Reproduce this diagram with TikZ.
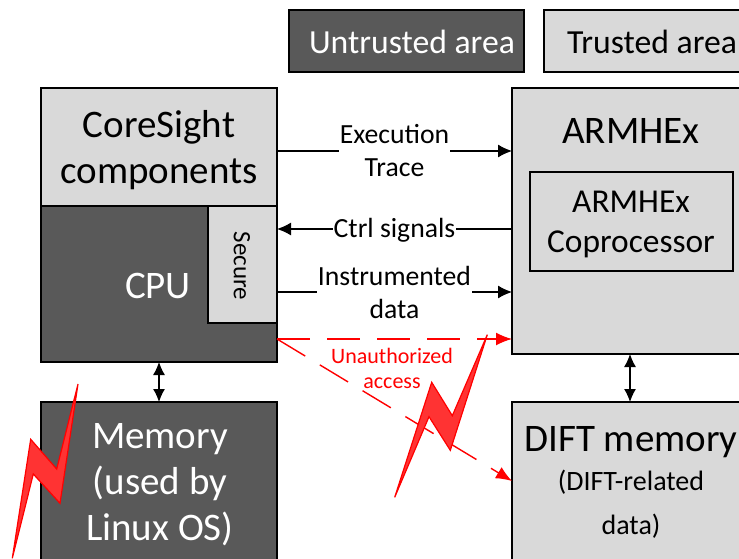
\documentclass[tikz,border=0pt]{standalone}
\usepackage{fontspec}
\setmainfont{Carlito}
\usetikzlibrary{arrows.meta}
\definecolor{darkbox}{RGB}{89,89,89}
\definecolor{lightbox}{RGB}{217,217,217}
\definecolor{boltred}{RGB}{255,51,51}
\tikzset{
  x=1pt,y=-1pt,
  box/.style={draw=black,line width=1.2pt,inner sep=0pt,outer sep=0pt,minimum width=#1},
  darkb/.style={box=#1,fill=darkbox},
  lightb/.style={box=#1,fill=lightbox},
  txtw/.style={text=white,align=center,inner sep=0pt},
  txtk/.style={text=black,align=center,inner sep=0pt},
  big/.style={font=\fontsize{39}{46}\selectfont},
  lead/.style={font=\fontsize{33.4}{40}\selectfont},
  arr/.style={draw=black,line width=1.2pt,-{Latex[length=14pt,width=13pt]}},
  dblarr/.style={draw=black,line width=1.2pt,{Latex[length=13pt,width=12pt]}-{Latex[length=13pt,width=12pt]}},
  lbl/.style={fill=white,align=center,inner xsep=1pt,inner ysep=0pt,font=\fontsize{27.7}{33}\selectfont},
  redarr/.style={draw=red,line width=1.4pt,dash pattern=on 33pt off 17pt,-{Latex[length=16pt,width=13pt]}},
  bolt/.style={draw=red,line width=1.2pt,fill=boltred,line join=miter},
}
\begin{document}
\begin{tikzpicture}
\useasboundingbox (0,0) rectangle (739,559);
% legend
\node[darkb=235pt,minimum height=62pt] (untrusted) at (406.5,41) {};
\node[lightb=201pt,minimum height=62pt] (trusted) at (644.5,41) {};
\node[txtw,font=\fontsize{33.7}{40}\selectfont] (untrustedt) at (412,41.5) {Untrusted area};
\node[txtk,font=\fontsize{33.7}{40}\selectfont] (trustedt) at (652,41.5) {Trusted area};
% left column
\node[lightb=236pt,minimum height=118pt] (coresight) at (159,147) {};
\node[darkb=236pt,minimum height=156pt] (cpu) at (159,284) {};
\node[lightb=69pt,minimum height=117pt] (secure) at (242.5,264.5) {};
\node[darkb=236pt,minimum height=164pt] (memory) at (159,484) {};
\node[txtk,big] (coresightt) at (159,150) {CoreSight\\components};
\node[txtw,big] (cput) at (158,286) {CPU};
\node[txtk,rotate=-90,font=\fontsize{25}{30}\selectfont] (securet) at (242,266) {Secure};
\node[txtw,big] (memoryt) at (160,485) {Memory\\(used by\\Linux OS)};
% right column
\node[lightb=236pt,minimum height=266pt] (armhex) at (630,221) {};
\node[lightb=203pt,minimum height=99pt] (copro) at (631.5,221.5) {};
\node[lightb=236pt,minimum height=164pt] (dift) at (630,484) {};
\node[txtk,big] (armhext) at (631,130.5) {ARMHEx};
\node[txtk,lead] (coprot) at (631,224) {ARMHEx\\Coprocessor};
\node[txtk,big] (diftt) at (631,442) {DIFT memory};
\node[txtk,font=\fontsize{28}{44}\selectfont] (difts) at (631,504) {(DIFT-related\\data)};
% connector ends
\coordinate (c1) at (coresight.east |- 0,151);
\coordinate (a1) at (armhex.west |- 0,151);
\coordinate (a2) at (armhex.west |- 0,229);
\coordinate (c2) at (cpu.east |- 0,229);
\coordinate (c3) at (cpu.east |- 0,292);
\coordinate (a3) at (armhex.west |- 0,292);
\coordinate (c4) at (cpu.east |- 0,339);
\coordinate (a4) at (armhex.west |- 0,339);
\coordinate (d4) at (dift.west |- 0,481);
% connectors
\draw[arr] (c1) -- node[lbl] (exec) {Execution\\Trace} (a1);
\draw[arr] (a2) -- node[lbl,yshift=-1.5pt] (ctrl) {Ctrl signals} (c2);
\draw[arr] (c3) -- node[lbl] (instr) {Instrumented\\data} (a3);
\draw[dblarr] (cpu.south) -- (memory.north);
\draw[dblarr] (armhex.south) -- (dift.north);
\draw[redarr] (c4) -- (a4);
\draw[redarr] (c4) -- (d4);
\node[text=red,align=center,inner sep=0pt,font=\fontsize{22}{25}\selectfont] (unauth) at (392,368) {Unauthorized\\access};
% lightning bolts
\draw[bolt] (78,384) -- (56.7,469) -- (30.7,439.3) -- (12.3,558.3) -- (33.3,474) -- (60,503.3) -- cycle;
\draw[bolt] (487.3,334.7) -- (452.3,415.7) -- (431.7,382.3) -- (394.7,497.3) -- (429,416.7) -- (450.3,450.3) -- cycle;
\end{tikzpicture}
\end{document}
